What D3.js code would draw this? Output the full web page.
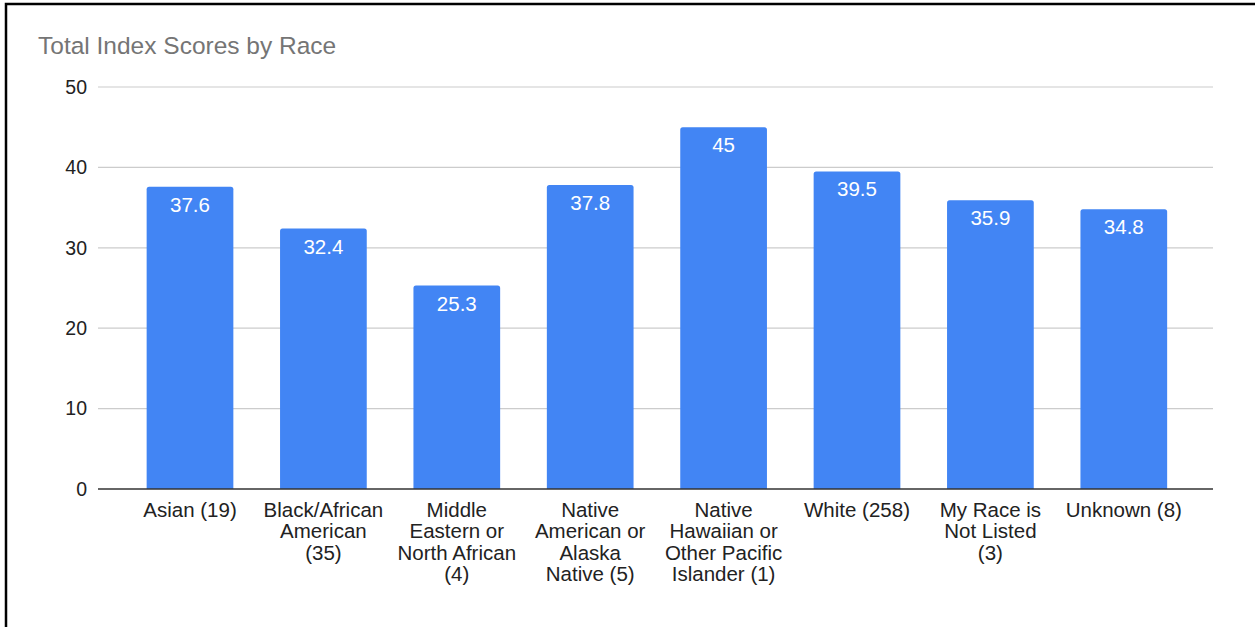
<!DOCTYPE html>
<html><head><meta charset="utf-8">
<script src="https://cdn.jsdelivr.net/npm/d3@7"></script>
<style>body{margin:0;background:#fff}svg{display:block;font-family:Arial,"Liberation Sans",sans-serif}</style>
</head><body>
<svg id="c" width="1255" height="627"></svg>
<script>
const categories = [
  ["Asian (19)"],
  ["Black/African","American","(35)"],
  ["Middle","Eastern or","North African","(4)"],
  ["Native","American or","Alaska","Native (5)"],
  ["Native","Hawaiian or","Other Pacific","Islander (1)"],
  ["White (258)"],
  ["My Race is","Not Listed","(3)"],
  ["Unknown (8)"]
];
const values = [37.6, 32.4, 25.3, 37.8, 45, 39.5, 35.9, 34.8];
const valueLabels = ["37.6","32.4","25.3","37.8","45","39.5","35.9","34.8"];
const yTicks = [0, 10, 20, 30, 40, 50];
const title = "Total Index Scores by Race";

const svg = d3.select("#c");
svg.append("rect").attr("x",6).attr("y",4).attr("width",1260).attr("height",640)
  .attr("fill","none").attr("stroke","#000").attr("stroke-width",2.5);

svg.append("text").attr("x",38).attr("y",54).attr("fill","#757575")
  .attr("font-size",24.5).text(title);

const y = d3.scaleLinear().domain([0,50]).range([489,87]);
const x = d3.scaleBand().domain(d3.range(categories.length)).range([123.3,1190.5]).paddingInner(0.35).paddingOuter(0.175);
const gridX0 = 98, gridX1 = 1213;

const grid = svg.append("g");
grid.selectAll("line").data(yTicks.filter(t=>t>0)).join("line")
  .attr("x1",gridX0).attr("x2",gridX1).attr("y1",d=>y(d)).attr("y2",d=>y(d))
  .attr("stroke","#cccccc").attr("stroke-width",1.2);

const yAxis = svg.append("g").attr("transform",`translate(${gridX0},0)`)
  .call(d3.axisLeft(y).tickValues(yTicks).tickSize(0).tickPadding(11));
yAxis.select(".domain").remove();
yAxis.selectAll("text").attr("font-size",19.5).attr("fill","#222").attr("font-family","Arial,'Liberation Sans',sans-serif");

const bars = svg.append("g");
bars.selectAll("path").data(values).join("path")
  .attr("fill","#4285f4")
  .attr("d",(d,i)=>{
    const x0=x(i), w=x.bandwidth(), y0=y(d), y1=y(0), r=2.5;
    return `M${x0},${y1}V${y0+r}Q${x0},${y0} ${x0+r},${y0}H${x0+w-r}Q${x0+w},${y0} ${x0+w},${y0+r}V${y1}Z`;
  });

bars.selectAll("text").data(values).join("text")
  .attr("x",(d,i)=>x(i)+x.bandwidth()/2).attr("y",d=>y(d)+25)
  .attr("text-anchor","middle").attr("fill","#fff").attr("font-size",20.5)
  .text((d,i)=>valueLabels[i]);

svg.append("line").attr("x1",gridX0).attr("x2",gridX1).attr("y1",y(0)).attr("y2",y(0))
  .attr("stroke","#333").attr("stroke-width",1.5);

const xl = svg.append("g");
categories.forEach((lines,i)=>{
  const t = xl.append("text").attr("text-anchor","middle").attr("font-size",20.5).attr("fill","#222");
  lines.forEach((ln,j)=>{
    t.append("tspan").attr("x",x(i)+x.bandwidth()/2).attr("y",517+j*21.3).text(ln);
  });
});
</script>
</body></html>
